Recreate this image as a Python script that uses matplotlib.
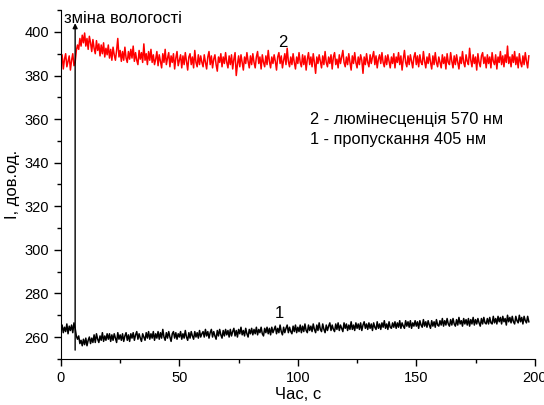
import matplotlib.pyplot as plt
from matplotlib.ticker import MultipleLocator

plt.rcParams['font.family'] = ['Liberation Sans', 'DejaVu Sans']

# curve 2 - luminescence at 570 nm, sampled every 0.5 s
lum_570 = [
    386, 389.5, 383, 387.5, 390, 384, 386.5, 389, 382.5, 387, 390, 384.5, 386, 391.5, 394, 392, 397, 393.5, 398.5, 395,
    399.5, 393.5, 397, 392, 398, 395, 391, 396.5, 392.5, 390, 396, 391.5, 394.5, 389, 394, 390, 395, 388.5, 392.5, 389.5,
    394, 388, 392, 387, 393, 389.5, 387, 391.5, 397, 388.5, 391.5, 386.5, 391, 387, 393, 388, 386, 391, 387.5, 392,
    388, 393.5, 386.5, 390.5, 387, 385, 391.5, 387.5, 390.5, 386, 394.5, 387, 390, 385, 391, 387, 392, 386, 389.5, 385,
    387.5, 391, 384.5, 389.5, 386.5, 383.5, 390, 386, 392, 385, 388, 390.5, 384, 389, 386, 390, 383, 388, 391, 384.5,
    387, 389.5, 383.5, 389, 385, 390.5, 386.5, 382.5, 388.5, 390, 385, 388.5, 383.5, 391.5, 386, 384, 389.5, 385, 389, 386,
    384, 389.5, 386, 383, 388.5, 391, 385, 389, 383.5, 387.5, 389.5, 385, 382, 388.5, 386, 390, 384, 388.5, 385.5, 390.5,
    386, 383.5, 389, 385, 389.5, 383, 387.5, 390.5, 380, 385, 389, 384, 389.5, 386, 382.5, 388.5, 385.5, 390.5, 386.5, 383.5,
    389, 385, 390, 386, 383.5, 388.5, 391, 385.5, 388.5, 383, 389.5, 386, 384, 389, 385, 391.5, 386.5, 383.5, 388.5, 385.5,
    389.5, 386.5, 382.5, 388.5, 390.5, 385.5, 389, 383.5, 387, 390, 385, 392.5, 386.5, 384, 388.5, 385, 390, 386, 383, 388.5,
    385.5, 390.5, 386, 384, 389.5, 385, 389, 382.5, 387.5, 390.5, 385, 388.5, 384, 390, 386, 381, 388.5, 385.5, 389.5, 386.5,
    383.5, 389, 385, 391, 386, 384, 388.5, 385.5, 389.5, 383, 388.5, 390.5, 385, 387.5, 383.5, 389.5, 385.5, 388.5, 391.5, 386,
    384, 388.5, 385, 390, 386, 382.5, 389, 385.5, 390.5, 386, 383.5, 388.5, 385, 389.5, 387, 381, 388.5, 385, 390, 386,
    384, 389.5, 385.5, 388.5, 391, 385, 389, 383.5, 387.5, 389.5, 385.5, 390.5, 386, 384, 389, 385, 389.5, 386.5, 383.5, 388.5,
    385.5, 390, 383.5, 388.5, 386, 390.5, 385, 389, 382.5, 387.5, 391.5, 386, 384, 389, 385, 389.5, 386.5, 383.5, 388.5, 390.5,
    385, 389, 384, 389.5, 386, 385, 391, 386.5, 383.5, 388.5, 385.5, 390, 386, 383, 389, 385, 390.5, 386, 384, 388.5,
    386, 383.5, 389.5, 385.5, 388.5, 383, 390, 386, 385, 390.5, 386.5, 383.5, 389, 385, 389.5, 386, 383, 388.5, 385.5, 391,
    386, 384, 389.5, 386.5, 385, 392.5, 387, 384, 389.5, 385.5, 388.5, 382.5, 390, 386, 384, 389, 390.5, 385.5, 388.5, 383.5,
    389.5, 385.5, 388.5, 383.5, 390.5, 386.5, 385, 389.5, 383, 388.5, 386, 391, 385, 389, 384, 389.5, 386, 393.5, 385.5, 388.5,
    384, 389.5, 386, 391, 385, 388.5, 383.5, 390, 386, 384, 389, 385, 390.5, 386.5, 383.5, 389,
]

# curve 1 - transmission at 405 nm, sampled every 0.5 s
trans_405 = [
    263, 265.5, 262, 264.5, 262.5, 266, 261.5, 265, 263, 265.5, 262, 266.5, 264, 260.5, 259, 260.5, 257, 258.5, 256, 259,
    256.5, 259.5, 256, 258.5, 260, 257, 259.5, 257.5, 261, 257.5, 261.5, 259, 257.5, 260.5, 258.5, 262, 258, 260.5, 258.5, 261.5,
    259, 261.5, 258, 261, 258.5, 261.5, 259.5, 257.5, 262, 259, 261, 258.5, 261.5, 258, 260.5, 262, 258.5, 261, 258, 261.5,
    259.5, 262, 258.5, 261, 262.5, 259, 261.5, 259.5, 258, 261.5, 260, 258.5, 262, 259.5, 262.5, 259, 261.5, 259.5, 262.5, 258.5,
    261.5, 259.5, 262.5, 259, 262, 259.5, 263.5, 260, 258.5, 262, 259.5, 262.5, 260, 258, 261.5, 262.5, 259.5, 262, 259, 261.5,
    260, 262.5, 259, 261.5, 259.5, 263, 260, 258.5, 262, 259.5, 262.5, 260.5, 259, 262.5, 260, 262, 259.5, 263, 260, 261.5,
    262.5, 260, 263.5, 260.5, 262.5, 259.5, 262, 263.5, 260, 262.5, 260.5, 259, 263, 260.5, 263.5, 261, 259.5, 263, 260.5, 263.5,
    261, 263, 260, 263.5, 260.5, 262.5, 264, 260.5, 263, 260, 263.5, 261.5, 264.5, 261, 263, 260.5, 264, 261.5, 260, 263.5,
    261.5, 264, 261, 263.5, 261.5, 264.5, 261, 263.5, 262, 264.5, 261.5, 260.5, 264, 262, 264.5, 261.5, 264, 261, 264.5, 262,
    263.5, 265, 261.5, 264, 262, 265.5, 262.5, 261, 264.5, 262, 264, 265.5, 262, 264.5, 262.5, 261.5, 265, 262.5, 265.5, 262,
    264.5, 262.5, 265.5, 262, 265, 262.5, 266, 263, 262, 265.5, 263, 265, 262.5, 266, 263.5, 262, 265.5, 263, 266.5, 263.5,
    262.5, 266, 263.5, 262, 265.5, 263, 265, 266.5, 263, 265.5, 263.5, 262.5, 266, 263.5, 266.5, 263, 265.5, 264, 262.5, 266.5,
    264, 266, 263, 265.5, 263.5, 267, 263.5, 265.5, 263, 266.5, 264, 266, 263.5, 266.5, 263, 265.5, 267, 264, 266, 263.5,
    266.5, 264, 266, 263, 266.5, 264.5, 263.5, 267, 264, 266, 263.5, 266.5, 264.5, 267.5, 264, 266, 263.5, 267, 264.5, 264,
    266.5, 264.5, 267, 264, 266.5, 264.5, 267.5, 264, 266.5, 265, 264, 267.5, 265, 267, 264.5, 267.5, 264, 266.5, 265, 267.5,
    265, 267, 264, 267.5, 265.5, 264.5, 268, 265, 267, 264.5, 267.5, 265.5, 264, 267.5, 265, 267, 264.5, 268, 265.5, 265,
    267.5, 265.5, 268.5, 265, 267.5, 265.5, 268.5, 266, 265, 268, 265.5, 268.5, 266, 265, 268, 265.5, 269, 266, 267.5, 265,
    268.5, 266, 268, 265.5, 268.5, 265, 268, 266, 269, 265.5, 268, 266, 268.5, 266.5, 265, 268.5, 266, 269, 266.5, 266,
    268.5, 266, 269, 266.5, 266, 269.5, 266.5, 268.5, 266, 269.5, 267, 269, 266, 269.5, 267, 268.5, 265.5, 270, 267, 269,
    266.5, 269.5, 267, 266, 269.5, 267.5, 266.5, 270, 267, 269, 266, 269.5, 267.5, 266.5, 269.5, 267,
]

t = [0.5 * i for i in range(len(lum_570))]
switch_time = 6

fig = plt.figure(figsize=(5.44, 4.05), dpi=100)
ax = fig.add_axes([0.112, 0.114, 0.871, 0.861])

ax.plot(t, lum_570, color='red', lw=1.1)
ax.plot(t, trans_405, color='black', lw=1.1)

# humidity switch marker
ax.annotate('', xy=(switch_time, 404), xytext=(switch_time, 254),
            arrowprops=dict(arrowstyle='-|>', color='black', lw=1,
                            mutation_scale=7, shrinkA=0, shrinkB=0))
ax.text(1.5, 406, 'зміна вологості', fontsize=12, va='center', ha='left')

ax.text(93.5, 395, '2', fontsize=12, ha='center', va='center')
ax.text(92, 271, '1', fontsize=12, ha='center', va='center')
ax.text(105, 359.7, '2 - люмінесценція 570 нм', fontsize=11.8, va='center')
ax.text(105, 350.6, '1 - пропускання 405 нм', fontsize=11.8, va='center')

ax.set_xlim(0, 200)
ax.set_ylim(250, 410)
ax.xaxis.set_major_locator(MultipleLocator(50))
ax.xaxis.set_minor_locator(MultipleLocator(25))
ax.yaxis.set_minor_locator(MultipleLocator(10))
ax.set_yticks(range(260, 401, 20))

ax.spines['top'].set_visible(False)
ax.spines['right'].set_visible(False)
ax.tick_params(which='major', length=5, width=1, labelsize=10.5, direction='out')
ax.tick_params(which='minor', length=3, width=1, direction='out')

ax.set_xlabel('Час, с', fontsize=12, labelpad=2)
ax.set_ylabel('I, дов.од.', fontsize=12, labelpad=3)

fig.savefig('out.png', dpi=100)
